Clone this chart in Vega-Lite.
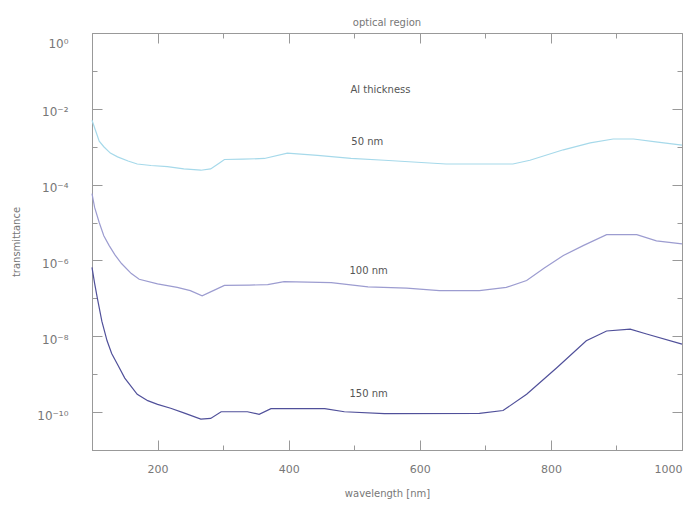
{
  "$schema": "https://vega.github.io/schema/vega-lite/v6.json",
  "width": 590,
  "height": 417,
  "autosize": {"type": "none"},
  "padding": {"left": 92, "top": 33, "right": 5, "bottom": 59},
  "background": "white",
  "title": {"text": "optical region", "fontSize": 10, "fontWeight": "normal", "color": "#777", "font": "DejaVu Sans", "offset": 5},
  "config": {
    "view": {"stroke": "#999", "strokeWidth": 1},
    "axis": {"grid": false, "domainColor": "#999", "tickColor": "#999", "labelColor": "#777", "labelFont": "DejaVu Sans", "labelFontSize": 11, "titleFont": "DejaVu Sans", "titleFontSize": 10, "titleFontWeight": "normal", "titleColor": "#777"}
  },
  "datasets": {
    "curves": [
      {"wl": 100, "T": 5.0e-3, "s": "50 nm"},
      {"wl": 105, "T": 2.8e-3, "s": "50 nm"},
      {"wl": 111, "T": 1.4e-3, "s": "50 nm"},
      {"wl": 118, "T": 1.0e-3, "s": "50 nm"},
      {"wl": 128, "T": 6.8e-4, "s": "50 nm"},
      {"wl": 139, "T": 5.4e-4, "s": "50 nm"},
      {"wl": 155, "T": 4.2e-4, "s": "50 nm"},
      {"wl": 169, "T": 3.5e-4, "s": "50 nm"},
      {"wl": 190, "T": 3.2e-4, "s": "50 nm"},
      {"wl": 215, "T": 3.0e-4, "s": "50 nm"},
      {"wl": 240, "T": 2.6e-4, "s": "50 nm"},
      {"wl": 266, "T": 2.4e-4, "s": "50 nm"},
      {"wl": 281, "T": 2.6e-4, "s": "50 nm"},
      {"wl": 295, "T": 3.8e-4, "s": "50 nm"},
      {"wl": 302, "T": 4.6e-4, "s": "50 nm"},
      {"wl": 330, "T": 4.7e-4, "s": "50 nm"},
      {"wl": 363, "T": 4.9e-4, "s": "50 nm"},
      {"wl": 398, "T": 6.8e-4, "s": "50 nm"},
      {"wl": 444, "T": 5.9e-4, "s": "50 nm"},
      {"wl": 495, "T": 4.9e-4, "s": "50 nm"},
      {"wl": 546, "T": 4.4e-4, "s": "50 nm"},
      {"wl": 640, "T": 3.5e-4, "s": "50 nm"},
      {"wl": 742, "T": 3.5e-4, "s": "50 nm"},
      {"wl": 768, "T": 4.4e-4, "s": "50 nm"},
      {"wl": 819, "T": 8.3e-4, "s": "50 nm"},
      {"wl": 860, "T": 1.26e-3, "s": "50 nm"},
      {"wl": 895, "T": 1.6e-3, "s": "50 nm"},
      {"wl": 926, "T": 1.6e-3, "s": "50 nm"},
      {"wl": 960, "T": 1.35e-3, "s": "50 nm"},
      {"wl": 1000, "T": 1.1e-3, "s": "50 nm"},
      {"wl": 100, "T": 5.8e-5, "s": "100 nm"},
      {"wl": 104, "T": 2.5e-5, "s": "100 nm"},
      {"wl": 111, "T": 1.0e-5, "s": "100 nm"},
      {"wl": 118, "T": 4.5e-6, "s": "100 nm"},
      {"wl": 126, "T": 2.5e-6, "s": "100 nm"},
      {"wl": 135, "T": 1.4e-6, "s": "100 nm"},
      {"wl": 145, "T": 8.3e-7, "s": "100 nm"},
      {"wl": 160, "T": 4.5e-7, "s": "100 nm"},
      {"wl": 172, "T": 3.2e-7, "s": "100 nm"},
      {"wl": 200, "T": 2.4e-7, "s": "100 nm"},
      {"wl": 230, "T": 1.95e-7, "s": "100 nm"},
      {"wl": 250, "T": 1.6e-7, "s": "100 nm"},
      {"wl": 268, "T": 1.17e-7, "s": "100 nm"},
      {"wl": 285, "T": 1.6e-7, "s": "100 nm"},
      {"wl": 302, "T": 2.2e-7, "s": "100 nm"},
      {"wl": 340, "T": 2.24e-7, "s": "100 nm"},
      {"wl": 368, "T": 2.3e-7, "s": "100 nm"},
      {"wl": 393, "T": 2.75e-7, "s": "100 nm"},
      {"wl": 465, "T": 2.6e-7, "s": "100 nm"},
      {"wl": 521, "T": 2.0e-7, "s": "100 nm"},
      {"wl": 580, "T": 1.86e-7, "s": "100 nm"},
      {"wl": 630, "T": 1.6e-7, "s": "100 nm"},
      {"wl": 691, "T": 1.6e-7, "s": "100 nm"},
      {"wl": 732, "T": 1.95e-7, "s": "100 nm"},
      {"wl": 763, "T": 2.95e-7, "s": "100 nm"},
      {"wl": 790, "T": 6.3e-7, "s": "100 nm"},
      {"wl": 819, "T": 1.35e-6, "s": "100 nm"},
      {"wl": 850, "T": 2.5e-6, "s": "100 nm"},
      {"wl": 885, "T": 4.8e-6, "s": "100 nm"},
      {"wl": 931, "T": 4.8e-6, "s": "100 nm"},
      {"wl": 961, "T": 3.3e-6, "s": "100 nm"},
      {"wl": 1000, "T": 2.75e-6, "s": "100 nm"},
      {"wl": 100, "T": 6.6e-7, "s": "150 nm"},
      {"wl": 104, "T": 2.5e-7, "s": "150 nm"},
      {"wl": 108, "T": 1.05e-7, "s": "150 nm"},
      {"wl": 115, "T": 2.5e-8, "s": "150 nm"},
      {"wl": 123, "T": 7.6e-9, "s": "150 nm"},
      {"wl": 130, "T": 3.5e-9, "s": "150 nm"},
      {"wl": 139, "T": 1.8e-9, "s": "150 nm"},
      {"wl": 150, "T": 7.9e-10, "s": "150 nm"},
      {"wl": 169, "T": 2.95e-10, "s": "150 nm"},
      {"wl": 185, "T": 2.0e-10, "s": "150 nm"},
      {"wl": 200, "T": 1.6e-10, "s": "150 nm"},
      {"wl": 220, "T": 1.26e-10, "s": "150 nm"},
      {"wl": 240, "T": 9.5e-11, "s": "150 nm"},
      {"wl": 266, "T": 6.5e-11, "s": "150 nm"},
      {"wl": 281, "T": 6.8e-11, "s": "150 nm"},
      {"wl": 297, "T": 1.02e-10, "s": "150 nm"},
      {"wl": 337, "T": 1.02e-10, "s": "150 nm"},
      {"wl": 355, "T": 8.7e-11, "s": "150 nm"},
      {"wl": 373, "T": 1.23e-10, "s": "150 nm"},
      {"wl": 455, "T": 1.23e-10, "s": "150 nm"},
      {"wl": 485, "T": 1.02e-10, "s": "150 nm"},
      {"wl": 546, "T": 9.1e-11, "s": "150 nm"},
      {"wl": 691, "T": 9.3e-11, "s": "150 nm"},
      {"wl": 727, "T": 1.1e-10, "s": "150 nm"},
      {"wl": 763, "T": 2.95e-10, "s": "150 nm"},
      {"wl": 809, "T": 1.48e-9, "s": "150 nm"},
      {"wl": 854, "T": 7.6e-9, "s": "150 nm"},
      {"wl": 885, "T": 1.38e-8, "s": "150 nm"},
      {"wl": 921, "T": 1.55e-8, "s": "150 nm"},
      {"wl": 946, "T": 1.15e-8, "s": "150 nm"},
      {"wl": 1000, "T": 6.2e-9, "s": "150 nm"}
    ],
    "notes": [
      {"wl": 540, "T": 0.031, "label": "Al thickness"},
      {"wl": 520, "T": 1.3e-3, "label": "50 nm"},
      {"wl": 522, "T": 5.4e-7, "label": "100 nm"},
      {"wl": 522, "T": 3.0e-10, "label": "150 nm"}
    ]
  },
  "layer": [
    {
      "data": {"name": "curves"},
      "mark": {"type": "line", "strokeWidth": 1.2},
      "encoding": {
        "x": {"field": "wl", "type": "quantitative", "scale": {"domain": [100, 1000], "nice": false, "zero": false},
          "axis": {"orient": "bottom", "title": "wavelength [nm]", "titlePadding": 14, "values": [100, 200, 300, 400, 500, 600, 700, 800, 900, 1000],
            "labelExpr": "datum.value % 200 == 0 ? datum.value : ''", "labelPadding": 23, "labelFlush": true,
            "tickSize": {"expr": "datum.value % 200 == 0 ? -10 : -5"}}},
        "y": {"field": "T", "type": "quantitative", "scale": {"type": "log", "domain": [1e-11, 1], "nice": false},
          "axis": {"orient": "left", "title": "transmittance", "titlePadding": 15,
            "values": [1e-11, 1e-10, 1e-9, 1e-8, 1e-7, 1e-6, 1e-5, 1e-4, 1e-3, 1e-2, 1e-1, 1],
            "labelExpr": "round(log(datum.value)/LN10) == 0 ? '10⁰' : round(log(datum.value)/LN10) == -2 ? '10⁻²' : round(log(datum.value)/LN10) == -4 ? '10⁻⁴' : round(log(datum.value)/LN10) == -6 ? '10⁻⁶' : round(log(datum.value)/LN10) == -8 ? '10⁻⁸' : round(log(datum.value)/LN10) == -10 ? '10⁻¹⁰' : ''",
            "labelPadding": 34, "labelFontSize": 12,
            "labelOffset": {"expr": "datum.value >= 0.5 ? 10 : 3"},
            "tickSize": {"expr": "round(log(datum.value)/LN10) % 2 == 0 ? -10 : -5"}}},
        "color": {"field": "s", "type": "nominal", "scale": {"domain": ["50 nm", "100 nm", "150 nm"], "range": ["#a6d9ea", "#9c9cd0", "#50509a"]}, "legend": null},
        "detail": {"field": "s"}
      }
    },
    {
      "data": {"name": "notes"},
      "mark": {"type": "text", "fontSize": 10, "color": "#555", "font": "DejaVu Sans", "align": "center", "baseline": "middle"},
      "encoding": {
        "x": {"field": "wl", "type": "quantitative",
          "axis": {"orient": "top", "title": null, "labels": false, "domain": false, "values": [100, 200, 300, 400, 500, 600, 700, 800, 900, 1000],
            "tickSize": {"expr": "datum.value % 200 == 0 ? -10 : -5"}}},
        "y": {"field": "T", "type": "quantitative",
          "axis": {"orient": "right", "title": null, "labels": false, "domain": false,
            "values": [1e-11, 1e-10, 1e-9, 1e-8, 1e-7, 1e-6, 1e-5, 1e-4, 1e-3, 1e-2, 1e-1, 1],
            "tickSize": {"expr": "round(log(datum.value)/LN10) % 2 == 0 ? -10 : -5"}}},
        "text": {"field": "label"}
      }
    }
  ],
  "resolve": {"axis": {"x": "independent", "y": "independent"}}
}
